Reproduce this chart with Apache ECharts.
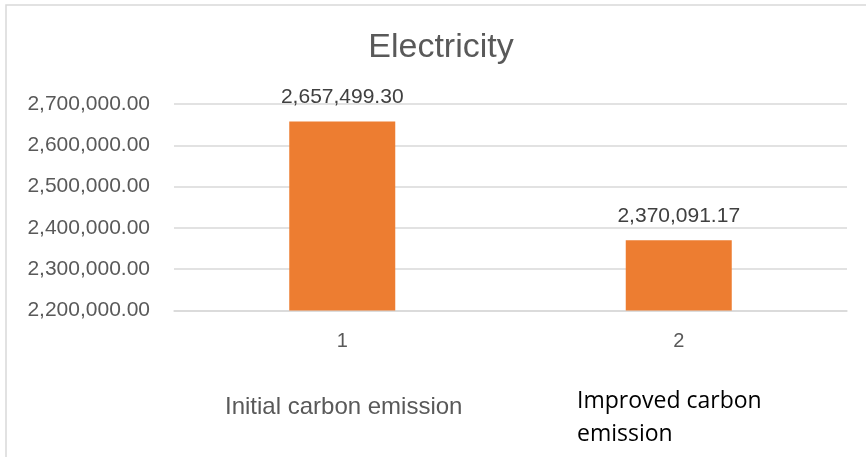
<!DOCTYPE html>
<html>
<head>
<meta charset="utf-8">
<script src="https://cdn.jsdelivr.net/npm/echarts@6/dist/echarts.min.js"></script>
<style>
html,body{margin:0;padding:0;background:#fff;}
#chart{width:866px;height:457px;}
</style>
</head>
<body>
<div id="chart"></div>
<script>
const titleText = "Electricity";
const categories = ["1", "2"];
const values = [2657499.30, 2370091.17];
const groupLabels = ["Initial carbon emission", "Improved carbon\nemission"];
const yMin = 2200000;
const yMax = 2700000;
const yStep = 100000;

function fmt(v) {
  return v.toLocaleString('en-US', {minimumFractionDigits: 2, maximumFractionDigits: 2});
}

const chart = echarts.init(document.getElementById('chart'), null, {renderer: 'canvas'});
chart.setOption({
  animation: false,
  backgroundColor: '#ffffff',
  textStyle: {fontFamily: 'Liberation Sans, Arial, sans-serif'},
  title: {
    text: titleText,
    left: 441,
    top: 31,
    textAlign: 'center',
    padding: 0,
    textStyle: {fontSize: 34, fontWeight: 'normal', color: '#595959', fontFamily: 'Liberation Sans'}
  },
  grid: {left: 174, right: 19, top: 104, bottom: 146.5, containLabel: false},
  xAxis: {
    type: 'category',
    data: categories,
    axisLine: {show: true, lineStyle: {color: '#d9d9d9', width: 1.5}},
    axisTick: {show: false},
    axisLabel: {color: '#595959', fontSize: 20, margin: 20.5}
  },
  yAxis: {
    type: 'value',
    min: yMin,
    max: yMax,
    interval: yStep,
    axisLine: {show: false},
    axisTick: {show: false},
    splitLine: {lineStyle: {color: '#d9d9d9', width: 1.5}},
    axisLabel: {color: '#595959', fontSize: 21, margin: 24, formatter: v => fmt(v)}
  },
  series: [{
    type: 'bar',
    data: values,
    barWidth: 106,
    itemStyle: {color: '#ED7D31'},
    label: {
      show: true,
      position: 'top',
      distance: 14,
      color: '#404040',
      fontSize: 21,
      formatter: p => fmt(p.value)
    }
  }],
  graphic: [
    {
      type: 'rect',
      silent: true,
      shape: {x: 6, y: 5, width: 900, height: 500},
      style: {fill: 'none', stroke: '#d9d9d9', lineWidth: 1.5}
    },
    {
      type: 'text',
      left: 225,
      top: 395.7,
      style: {text: groupLabels[0], fontSize: 24, fill: '#595959', fontFamily: 'Liberation Sans'}
    },
    {
      type: 'text',
      left: 577,
      top: 384.6,
      style: {text: groupLabels[1], fontSize: 23, lineHeight: 33, fill: '#000000', fontFamily: 'Open Sans'}
    }
  ]
});
</script>
</body>
</html>
